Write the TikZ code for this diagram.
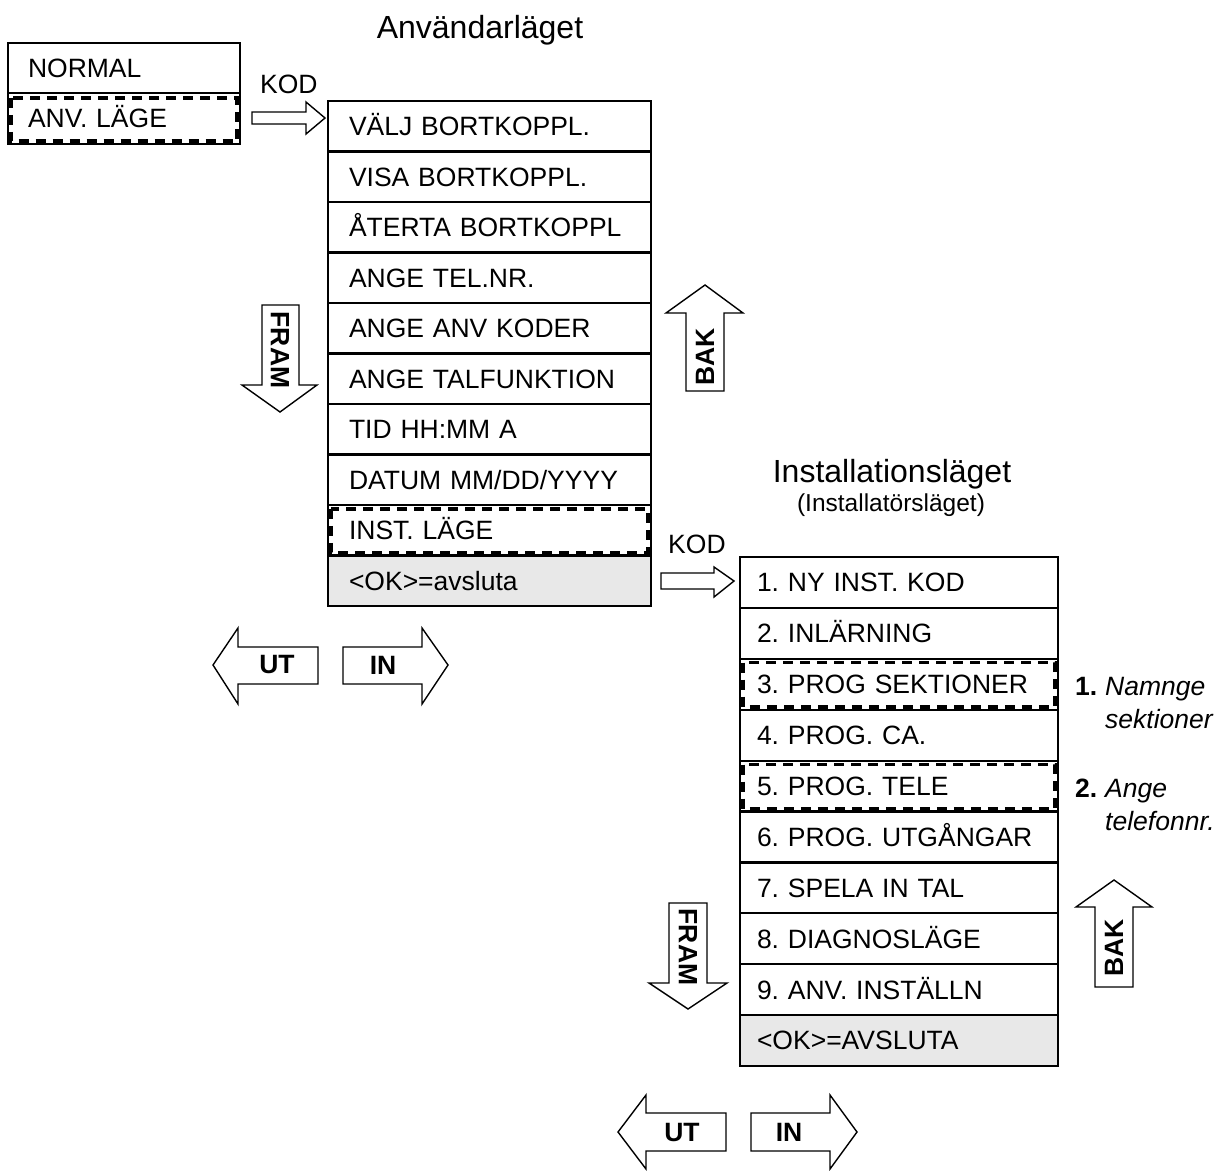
\documentclass[tikz,border=0pt]{standalone}
\usepackage{fontspec}
\setmainfont{Liberation Sans}
\definecolor{okgray}{RGB}{232,232,232}
\newcommand\rowfont{\fontsize{26.5}{30}\selectfont\frenchspacing}
\newcommand\titlefont{\fontsize{32}{38}\selectfont}
\newcommand\subfont{\fontsize{24.5}{30}\selectfont}
\begin{document}
\begin{tikzpicture}[x=1pt,y=-1pt,
  rowbox/.style={draw, line width=2.2pt, align=left, font=\rowfont,
     text height=18.8pt, text depth=0pt},
  userrow/.style={rowbox, minimum height=50.5pt, inner xsep=21pt, text width=281pt},
  instrow/.style={rowbox, minimum height=50.9pt, inner xsep=17pt, text width=284pt},
  toprow/.style={rowbox, inner xsep=20pt, text width=192pt},
  dashbox/.style={draw, line width=3.5pt, dash pattern=on 10pt off 7pt},
  harrow/.style={draw, line width=1.4pt, fill=white, line join=miter},
  arrowtext/.style={font=\rowfont\bfseries, inner sep=0pt},
  plain/.style={font=\rowfont, inner sep=0pt}
]
\useasboundingbox (0,0) rectangle (1218,1170);

% titles
\node[font=\titlefont, inner sep=0pt, anchor=base] (t1) at (480,38) {Användarläget};
\node[font=\titlefont, inner sep=0pt, anchor=base] (t2) at (892,482) {Installationsläget};
\node[font=\subfont, inner sep=0pt, anchor=base] (t3) at (891,511) {(Installatörsläget)};

% top-left box
\node[toprow, minimum height=50pt] (normal) at (124,68) {NORMAL};
\node[toprow, minimum height=51pt] (anv) at (124,118.5) {ANV. LÄGE};
\draw[dashbox] ([xshift=4pt,yshift=-6pt]anv.north west) rectangle ([xshift=-4pt,yshift=4pt]anv.south east);

% user menu
\foreach \i/\t in {0/{VÄLJ BORTKOPPL.},1/{VISA BORTKOPPL.},2/{ÅTERTA BORTKOPPL},3/{ANGE TEL.NR.},4/{ANGE ANV KODER},5/{ANGE TALFUNKTION},6/{TID HH:MM A},7/{DATUM MM/DD/YYYY},8/{INST. LÄGE}}{
  \node[userrow] (u\i) at (489.5,{101+50.5*(\i+0.5)}) {\t};
}
\node[userrow, fill=okgray] (u9) at (489.5,{101+50.5*9.5}) {<OK>=avsluta};
\draw[dashbox] ([xshift=4pt,yshift=-5pt]u8.north west) rectangle ([xshift=-4pt,yshift=4pt]u8.south east);

% install menu
\foreach \i/\t in {0/{1. NY INST. KOD},1/{2. INLÄRNING},2/{3. PROG SEKTIONER},3/{4. PROG. CA.},4/{5. PROG. TELE},5/{6. PROG. UTGÅNGAR},6/{7. SPELA IN TAL},7/{8. DIAGNOSLÄGE},8/{9. ANV. INSTÄLLN}}{
  \node[instrow] (n\i) at (899,{557+50.9*(\i+0.5)}) {\t};
}
\node[instrow, fill=okgray] (n9) at (899,{557+50.9*9.5}) {<OK>=AVSLUTA};
\draw[dashbox] ([xshift=4pt,yshift=-5pt]n2.north west) rectangle ([xshift=-4pt,yshift=4pt]n2.south east);
\draw[dashbox] ([xshift=4pt,yshift=-5pt]n4.north west) rectangle ([xshift=-4pt,yshift=4pt]n4.south east);

% KOD arrows
\node[plain, anchor=base west] (kod1) at (260,93) {KOD};
\draw[harrow] (252,112) -- (306,112) -- (306,102) -- (325,118) -- (306,134) -- (306,124) -- (252,124) -- cycle;
\node[plain, anchor=base west] (kod2) at (668,553) {KOD};
\draw[harrow] (661,573) -- (714,573) -- (714,567) -- (734,581) -- (714,597) -- (714,589) -- (661,589) -- cycle;

% user FRAM / BAK
\draw[harrow] (262,305) -- (299,305) -- (299,385) -- (317,385) -- (280,412) -- (242,385) -- (262,385) -- cycle;
\node[arrowtext, rotate=-90] (fram1) at (280,350) {FRAM};
\draw[harrow] (686,391) -- (724,391) -- (724,313) -- (743,313) -- (705,285) -- (666,313) -- (686,313) -- cycle;
\node[arrowtext, rotate=90] (bak1) at (705,357) {BAK};

% user UT / IN
\draw[harrow] (213,665) -- (238,628) -- (238,647) -- (318,647) -- (318,684) -- (238,684) -- (238,704) -- cycle;
\node[arrowtext] (ut1) at (277,665) {UT};
\draw[harrow] (343,647) -- (422,647) -- (422,628) -- (448,665) -- (422,704) -- (422,684) -- (343,684) -- cycle;
\node[arrowtext] (in1) at (383,665) {IN};

% install FRAM / BAK
\draw[harrow] (669,903) -- (707,903) -- (707,983) -- (727,983) -- (688,1009) -- (649,983) -- (669,983) -- cycle;
\node[arrowtext, rotate=-90] (fram2) at (688,947) {FRAM};
\draw[harrow] (1095,987) -- (1133,987) -- (1133,907) -- (1152,907) -- (1114,880) -- (1076,907) -- (1095,907) -- cycle;
\node[arrowtext, rotate=90] (bak2) at (1114,948) {BAK};

% install UT / IN
\draw[harrow] (618,1132) -- (646,1095) -- (646,1113) -- (726,1113) -- (726,1151) -- (646,1151) -- (646,1169) -- cycle;
\node[arrowtext] (ut2) at (682,1132) {UT};
\draw[harrow] (751,1113) -- (830,1113) -- (830,1095) -- (857,1132) -- (830,1169) -- (830,1151) -- (751,1151) -- cycle;
\node[arrowtext] (in2) at (789,1132) {IN};

% side notes
\node[arrowtext, anchor=base west] (num1) at (1075,695) {1.};
\node[plain, font=\rowfont\itshape, anchor=base west] (note1a) at (1105,695) {Namnge};
\node[plain, font=\rowfont\itshape, anchor=base west] (note1b) at (1105,728) {sektioner};
\node[arrowtext, anchor=base west] (num2) at (1075,797) {2.};
\node[plain, font=\rowfont\itshape, anchor=base west] (note2a) at (1105,797) {Ange};
\node[plain, font=\rowfont\itshape, anchor=base west] (note2b) at (1105,830) {telefonnr.};
\end{tikzpicture}
\end{document}
